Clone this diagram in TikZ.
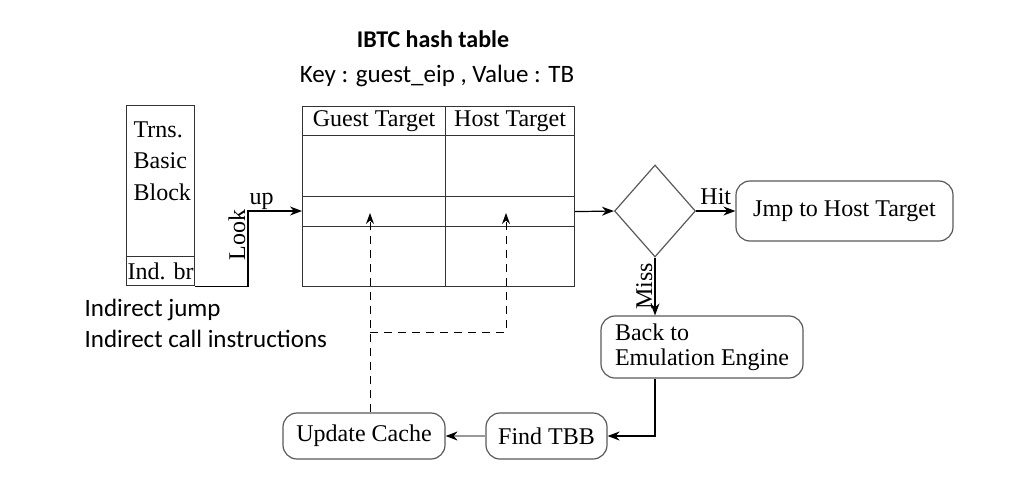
\documentclass[tikz,border=0pt]{standalone}
\usepackage{fontspec}
\setmainfont{Liberation Serif}
\newfontfamily\calibri{Carlito}
\usetikzlibrary{arrows.meta}
\usetikzlibrary{shapes.geometric}

\begin{document}
\begin{tikzpicture}[x=1pt,y=-1pt,font=\fontsize{24}{31.5}\selectfont,line width=1.2pt,
  cell/.style={draw=black!80,anchor=north west,inner sep=1pt},
  rbox/.style={draw=black!65,rounded corners=14pt,inner sep=2pt},
  flow/.style={-{Stealth[length=12pt,width=9pt]}},
  dashline/.style={dash pattern=on 8pt off 6pt,line width=1pt,-{Stealth[length=11pt,width=8pt]}},
  sans/.style={font=\calibri\fontsize{25}{30}\selectfont,inner sep=0pt}]

\useasboundingbox (0,0) rectangle (1030,490);

\def\colA{302} \def\colB{445}
\def\rowA{106} \def\rowB{135} \def\rowC{196} \def\rowD{226}

% title
\node [sans,anchor=base,font=\calibri\fontsize{24}{29}\selectfont\bfseries] (title) at (433,47) {IBTC hash table};
\node [sans,anchor=base] (key) at (437,82) {Key : guest\_eip , Value : TB};

% translated basic block
\node [cell,minimum width=68,minimum height=151] (trbb) at (126,105) {};
\node [anchor=north west,align=left,inner sep=0pt] (trbbtxt) at (133,121) {Trns.\\Basic\\Block};
\node [cell,minimum width=68,minimum height=29] (indbr) at (126,256) {Ind. br};

\node [sans,anchor=base west] (indj) at (84,316) {Indirect jump};
\node [sans,anchor=base west] (indc) at (84,347) {Indirect call instructions};

% hash table
\node [cell,minimum width=143,minimum height=29] (gt) at (\colA,\rowA) {Guest Target};
\node [cell,minimum width=129,minimum height=29] (ht) at (\colB,\rowA) {Host Target};
\node [cell,minimum width=143,minimum height=61] (g1) at (\colA,\rowB) {};
\node [cell,minimum width=129,minimum height=61] (h1) at (\colB,\rowB) {};
\node [cell,minimum width=143,minimum height=30] (g2) at (\colA,\rowC) {};
\node [cell,minimum width=129,minimum height=30] (h2) at (\colB,\rowC) {};
\node [cell,minimum width=143,minimum height=60] (g3) at (\colA,\rowD) {};
\node [cell,minimum width=129,minimum height=60] (h3) at (\colB,\rowD) {};

% decision and actions
\node [diamond,draw=black!65,minimum width=81,minimum height=92,inner sep=0pt] (dec) at (655,211) {};
\node [rbox,minimum width=217,minimum height=60] (jmp) at (844.5,211) {Jmp to Host Target};
\node [rbox,minimum width=202,minimum height=62,align=left,font=\fontsize{24}{25}\selectfont] (back) at (702,347) {Back to\\Emulation Engine};
\node [rbox,minimum width=121,minimum height=46] (find) at (546.5,436) {Find TBB};
\node [rbox,minimum width=162,minimum height=46] (upd) at (364,436) {Update Cache};

\coordinate (look) at (248,211);
\coordinate (gin) at (370,213);
\coordinate (hin) at (506,213);
\coordinate (join) at (370,332);

\draw [flow] (indbr.south east) -| node[pos=0.84,rotate=90,anchor=south,inner sep=2pt] {Look} (look)
  node[above right,inner sep=1pt] {up} -- (look -| g2.west);
\draw [flow] (h2.east) -- (dec.west);
\draw [flow] (dec.east) -- node[above,inner sep=6pt] {Hit} (jmp.west);
\draw [flow] (dec.south) -- node[rotate=90,anchor=south,inner sep=2pt] {Miss} (dec.south |- back.north);
\draw [flow] (dec.south |- back.south) |- (find.east);
\draw [-{Stealth[length=12pt,width=9pt,color=black]},draw=black!40] (find.west) -- (upd.east);

\draw [dashline] (upd.north -| join) -- (join) -- (gin);
\draw [dashline] (join) -- (join -| hin) -- (hin);
\end{tikzpicture}
\end{document}
